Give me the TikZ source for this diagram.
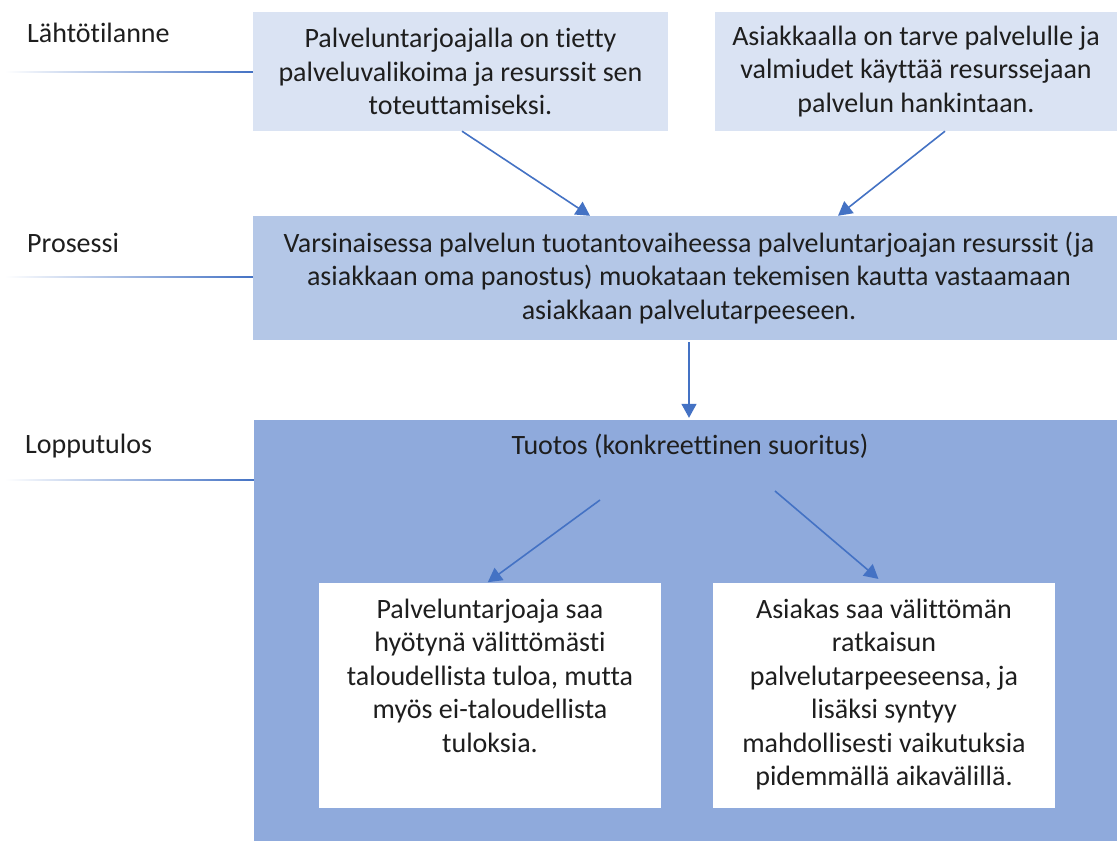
\documentclass[tikz,border=0pt]{standalone}
\usepackage{fontspec}
\setmainfont{Carlito}[Ligatures=CommonOff]
\usetikzlibrary{arrows.meta,calc}
\definecolor{lightblue}{HTML}{DAE3F3}
\definecolor{midblue}{HTML}{B4C7E7}
\definecolor{darkblue}{HTML}{8FAADC}
\definecolor{arrowblue}{HTML}{4472C4}
\definecolor{textgray}{HTML}{1E1E1E}

\begin{document}
\begin{tikzpicture}[x=1pt,y=-1pt,
    txt/.style={font=\fontsize{28}{33.5}\selectfont,text=textgray,align=center,inner sep=0pt},
    stagebox/.style={txt,minimum width=#1,minimum height=119pt},
    flow/.style={arrowblue,line width=1.6pt,-{Triangle[width=15pt,length=14pt]}}]
    \clip (0,0) rectangle (1117,841);
    \fill[white] (0,0) rectangle (1117,841);
    \node[stagebox=415,fill=lightblue] (tl) at (460.5,71.5) {Palveluntarjoajalla on tietty\\palveluvalikoima ja resurssit sen\\toteuttamiseksi.};
    \node[stagebox=402,fill=lightblue] (tr) at (916,71.5) {Asiakkaalla on tarve palvelulle ja\\valmiudet käyttää resurssejaan\\palvelun hankintaan.};
    \node[txt,fill=midblue,minimum width=872,minimum height=124] (proc) at (689,278) {Varsinaisessa palvelun tuotantovaiheessa palveluntarjoajan resurssit (ja\\asiakkaan oma panostus) muokataan tekemisen kautta vastaamaan\\asiakkaan palvelutarpeeseen.};
    \node[fill=darkblue,inner sep=0pt,minimum width=870,minimum height=425] (out) at (689,632.5) {};
    \node[txt] (title) at (690,446) {Tuotos (konkreettinen suoritus)};
    \node[fill=white,inner sep=0pt,minimum width=342,minimum height=225] (lbox) at (490,695.5) {};
    \node[fill=white,inner sep=0pt,minimum width=342,minimum height=225] (rbox) at (884,695.5) {};
    \node[txt,anchor=north] (ltext) at ($(lbox.north)+(0,16)$) {Palveluntarjoaja saa\\hyötynä välittömästi\\taloudellista tuloa, mutta\\myös ei-taloudellista\\tuloksia.};
    \node[txt,anchor=north] (rtext) at ($(rbox.north)+(0,16)$) {Asiakas saa välittömän\\ratkaisun\\palvelutarpeeseensa, ja\\lisäksi syntyy\\mahdollisesti vaikutuksia\\pidemmällä aikavälillä.};
    \node[txt,anchor=west] (lab1) at (27,33) {Lähtötilanne};
    \node[txt,anchor=west] (lab2) at (27,243) {Prosessi};
    \node[txt,anchor=west] (lab3) at (25,446) {Lopputulos};
    \coordinate (l1) at (5,72);
    \coordinate (l2) at (5,277);
    \coordinate (l3) at (5,480);
    \shade[left color=white,right color=arrowblue] ($(l1)+(0,-0.8)$) rectangle ($(tl.west |- l1)+(0,0.8)$);
    \shade[left color=white,right color=arrowblue] ($(l2)+(0,-0.8)$) rectangle ($(proc.west |- l2)+(0,0.8)$);
    \shade[left color=white,right color=arrowblue] ($(l3)+(0,-0.8)$) rectangle ($(out.west |- l3)+(0,0.8)$);
    \draw[flow] (tl.south -| 462,0) -- (proc.north -| 590,0);
    \draw[flow] (tr.south -| 945,0) -- (proc.north -| 838,0);
    \draw[flow,shorten <=2pt,shorten >=2pt] (proc.south) -- (out.north);
    \coordinate (c4) at (600,500);
    \coordinate (c5) at (775,491);
    \draw[flow,shorten >=1pt] (c4) -- (lbox.north -| 487,0);
    \draw[flow,shorten >=6pt] (c5) -- (rbox.north -| 883,0);
\end{tikzpicture}
\end{document}
